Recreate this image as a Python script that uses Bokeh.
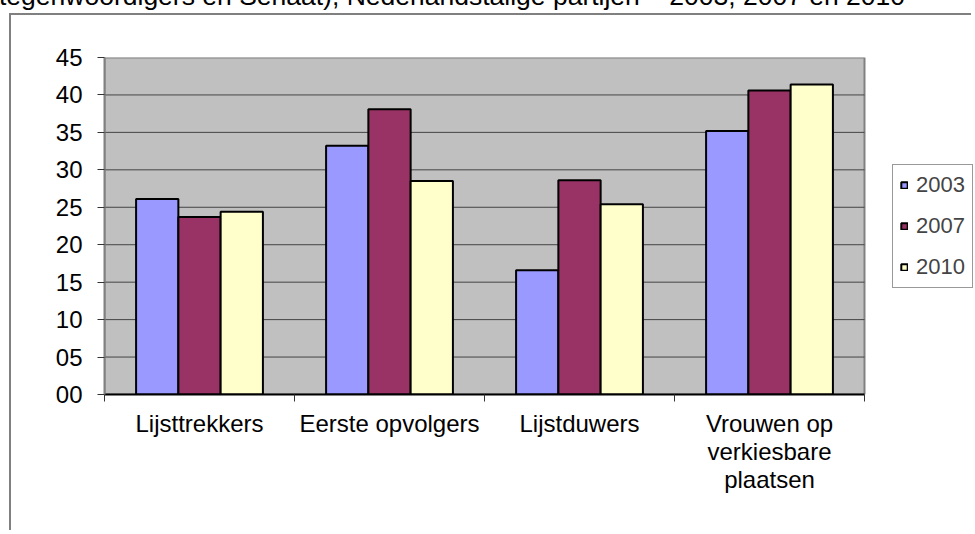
from bokeh.plotting import figure
from bokeh.layouts import column
from bokeh.models import (ColumnDataSource, Range1d, FixedTicker, LinearAxis, Div)
from bokeh.transform import dodge
from bokeh.embed import file_html
from bokeh.resources import INLINE

# ---------------- data ----------------
categories = ["Lijsttrekkers", "Eerste opvolgers", "Lijstduwers",
              "Vrouwen op\nverkiesbare\nplaatsen"]
years = ["2003", "2007", "2010"]
v2003 = [26.1, 33.2, 16.6, 35.2]
v2007 = [23.7, 38.1, 28.6, 40.6]
v2010 = [24.4, 28.5, 25.4, 41.4]
y_ticks = [0, 5, 10, 15, 20, 25, 30, 35, 40, 45]
y_tick_labels = ["00", "05", "10", "15", "20", "25", "30", "35", "40", "45"]
title_text = "tegenwoordigers en Senaat), Nederlandstalige partijen \u2013 2003, 2007 en 2010"

colors = ["#9999FF", "#993366", "#FFFFCC"]
FONT = "Liberation Sans"

n = len(categories)

# ---------------- layout geometry (pixels) ----------------
W, H = 962, 517
B_LEFT, B_RIGHT, B_TOP, B_BOTTOM = 93, 0, 42, 138
PLOT_W = 760                       # width of the grey plot area
FRAME_W = W - B_LEFT - B_RIGHT     # frame also hosts the legend
x_end = n * FRAME_W / PLOT_W

src = ColumnDataSource(dict(
    xc=[i + 0.5 for i in range(n)],
    y2003=v2003, y2007=v2007, y2010=v2010,
))

p = figure(width=W, height=H, output_backend="svg", toolbar_location=None,
           x_range=Range1d(0, x_end), y_range=Range1d(y_ticks[0], y_ticks[-1]),
           min_border_left=B_LEFT, min_border_right=B_RIGHT, min_border_top=B_TOP,
           min_border_bottom=B_BOTTOM, title=None)
p.margin = (0, 0, 0, 9)
p.styles = {"border-left": "2px solid #808080", "border-top": "2px solid #808080"}
p.background_fill_color = "white"
p.border_fill_color = "white"
p.outline_line_color = None

# grey plot area
p.quad(left=[0], right=[n], bottom=[y_ticks[0]], top=[y_ticks[-1]],
       fill_color="#C0C0C0", line_color="#808080", line_width=2)
# horizontal grid lines inside the plot area
p.segment(x0=[0] * len(y_ticks[1:-1]), x1=[n] * len(y_ticks[1:-1]),
          y0=y_ticks[1:-1], y1=y_ticks[1:-1], line_color="#444444", line_width=1)
p.xgrid.visible = False
p.ygrid.visible = False

bw = 0.2225
offsets = [-bw, 0, bw]
for yr, col, off in zip(years, colors, offsets):
    p.vbar(x=dodge("xc", off, range=p.x_range), top="y" + yr, width=bw, source=src,
           fill_color=col, line_color="black", line_width=2, legend_label=yr)

# y axis
yax = p.yaxis[0]
yax.ticker = FixedTicker(ticks=y_ticks)
yax.major_label_overrides = {t: l for t, l in zip(y_ticks, y_tick_labels)}
yax.major_label_text_font = FONT
yax.major_label_text_font_size = "24px"
yax.major_label_text_color = "black"
yax.major_tick_out = 7
yax.major_tick_in = 0
yax.major_tick_line_color = "#333333"
yax.minor_tick_line_color = None
yax.axis_line_color = "#808080"
yax.axis_line_width = 2
yax.major_label_standoff = 15

# x axis: boundary ticks
bounds = list(range(n + 1))
xax = p.xaxis[0]
xax.ticker = FixedTicker(ticks=bounds)
xax.bounds = (0, n)
xax.major_label_overrides = {b: "" for b in bounds}
xax.major_label_text_font_size = "1px"
xax.major_tick_out = 7
xax.major_tick_in = 0
xax.major_tick_line_color = "#333333"
xax.minor_tick_line_color = None
xax.axis_line_color = "black"
xax.axis_line_width = 2
xax.major_label_standoff = 0

# x axis: category labels
centers = [i + 0.5 for i in range(n)]
lab_ax = LinearAxis(ticker=FixedTicker(ticks=centers),
                    major_label_overrides={c: t for c, t in zip(centers, categories)})
lab_ax.axis_line_color = None
lab_ax.major_tick_line_color = None
lab_ax.minor_tick_line_color = None
lab_ax.major_tick_out = 0
lab_ax.major_tick_in = 0
lab_ax.major_label_text_font = FONT
lab_ax.major_label_text_font_size = "24px"
lab_ax.major_label_text_line_height = 1.05
lab_ax.major_label_text_color = "black"
lab_ax.major_label_standoff = 8
p.add_layout(lab_ax, "below")

# legend
lg = p.legend[0]
lg.location = (788, 106)
lg.margin = 0
lg.label_text_font = FONT
lg.label_text_font_size = "22px"
lg.glyph_width = 8
lg.glyph_height = 8
lg.label_standoff = 8
lg.padding = 7
lg.spacing = 15
lg.border_line_color = "#333333"
lg.border_line_width = 1
lg.background_fill_color = "white"
lg.background_fill_alpha = 1

# clipped title line above the chart frame
title_div = Div(
    text=('<div style="position:absolute; left:-1px; top:-17px; white-space:nowrap; '
          'font-family:\'Liberation Sans\'; font-size:26.5px; line-height:26.5px; '
          'color:black;">' + title_text + '</div>'),
    width=975, height=13,
    styles={"overflow": "hidden", "position": "relative"})
title_div.margin = 0

layout = column(title_div, p)
open("out.html", "w").write(file_html(layout, INLINE))
